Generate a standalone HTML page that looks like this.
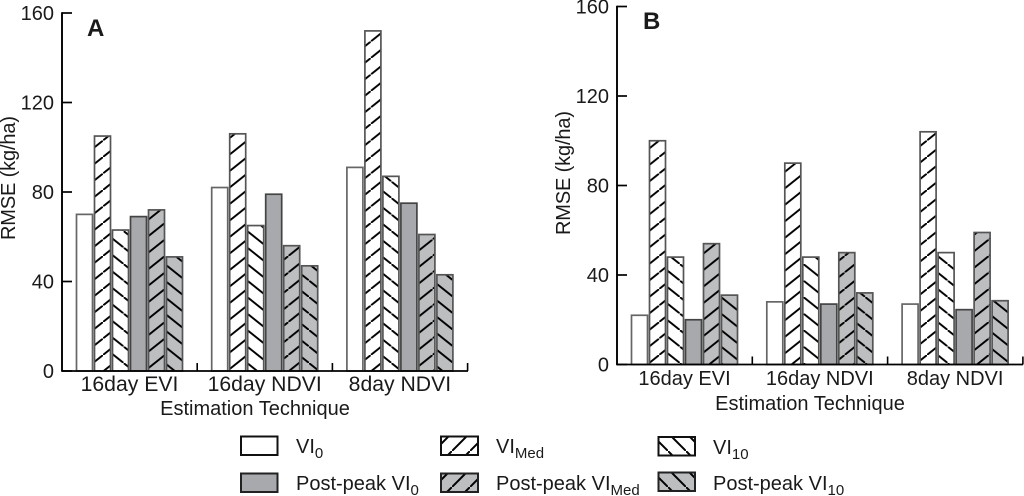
<!DOCTYPE html>
<html>
<head>
<meta charset="utf-8">
<title>RMSE by estimation technique</title>
<style>
html,body{margin:0;padding:0;background:#fff;width:1024px;height:496px;overflow:hidden}
svg{display:block;font-family:"Liberation Sans",sans-serif;fill:#1a1a1a;filter:blur(0.35px)}
text{font-size:20px}
</style>
</head>
<body>
<svg id="chart" xmlns="http://www.w3.org/2000/svg" width="1024" height="496" viewBox="0 0 1024 496">
  <defs>
    <pattern id="up" patternUnits="userSpaceOnUse" width="20.6" height="16.5" patternTransform="translate(0 -8)"><rect width="20.6" height="16.5" fill="#fff"/><path d="M-2 18.1L22.6 -1.6" stroke="#000" stroke-width="1.9"/></pattern>
    <pattern id="down" patternUnits="userSpaceOnUse" width="20.6" height="16.5"><rect width="20.6" height="16.5" fill="#fff"/><path d="M-2 -1.6L22.6 18.1" stroke="#000" stroke-width="1.9"/></pattern>
    <pattern id="upGray" patternUnits="userSpaceOnUse" width="20.6" height="16.5" patternTransform="translate(0 -8)"><rect width="20.6" height="16.5" fill="#bcbec0"/><path d="M-2 18.1L22.6 -1.6" stroke="#000" stroke-width="1.9"/></pattern>
    <pattern id="downGray" patternUnits="userSpaceOnUse" width="20.6" height="16.5"><rect width="20.6" height="16.5" fill="#bcbec0"/><path d="M-2 -1.6L22.6 18.1" stroke="#000" stroke-width="1.9"/></pattern>
    <pattern id="legUp" patternUnits="userSpaceOnUse" width="18" height="18" patternTransform="translate(2 1)"><rect width="18" height="18" fill="#fff"/><path d="M-2 20L20 -2" stroke="#000" stroke-width="2"/></pattern>
    <pattern id="legDown" patternUnits="userSpaceOnUse" width="18" height="18" patternTransform="translate(2 1)"><rect width="18" height="18" fill="#fff"/><path d="M-2 -2L20 20" stroke="#000" stroke-width="2"/></pattern>
    <pattern id="legUpGray" patternUnits="userSpaceOnUse" width="18" height="18" patternTransform="translate(2 1)"><rect width="18" height="18" fill="#bcbec0"/><path d="M-2 20L20 -2" stroke="#000" stroke-width="2"/></pattern>
    <pattern id="legDownGray" patternUnits="userSpaceOnUse" width="18" height="18" patternTransform="translate(2 1)"><rect width="18" height="18" fill="#bcbec0"/><path d="M-2 -2L20 20" stroke="#000" stroke-width="2"/></pattern>
  </defs>

  <g>
    <g>
      <rect x="241" y="436.5" width="36.5" height="18.5" fill="#fff" stroke="#111" stroke-width="2"/>
      <text x="296" y="453">VI<tspan dy="5" style="font-size:15px">0</tspan></text>
    </g>
    <g>
      <rect x="441" y="436.5" width="37" height="18.5" fill="url(#legUp)" stroke="#111" stroke-width="2"/>
      <text x="496" y="453">VI<tspan dy="5" style="font-size:15px">Med</tspan></text>
    </g>
    <g>
      <rect x="658.5" y="437" width="36.5" height="18.5" fill="url(#legDown)" stroke="#111" stroke-width="2"/>
      <text x="713" y="454">VI<tspan dy="5" style="font-size:15px">10</tspan></text>
    </g>
    <g>
      <rect x="241" y="473.5" width="36.5" height="18.5" fill="#a7a9ac" stroke="#222" stroke-width="2"/>
      <text x="296" y="490">Post-peak VI<tspan dy="5" style="font-size:15px">0</tspan></text>
    </g>
    <g>
      <rect x="441" y="473.5" width="37" height="18.5" fill="url(#legUpGray)" stroke="#222" stroke-width="2"/>
      <text x="496" y="490">Post-peak VI<tspan dy="5" style="font-size:15px">Med</tspan></text>
    </g>
    <g>
      <rect x="658.5" y="472.5" width="36.5" height="18.5" fill="url(#legDownGray)" stroke="#222" stroke-width="2"/>
      <text x="713" y="490">Post-peak VI<tspan dy="5" style="font-size:15px">10</tspan></text>
    </g>
  </g>
</svg>
<script>
const categories = ["16day EVI", "16day NDVI", "8day NDVI"];
const seriesNames = ["vi0", "vi-med", "vi10", "post-peak-vi0", "post-peak-vi-med", "post-peak-vi10"];
const yTicks = [0, 40, 80, 120, 160];
const yTickLabels = ["0", "40", "80", "120", "160"];
const panelAValues = [
  [70, 105, 63, 69, 72, 51],
  [82, 106, 65, 79, 56, 47],
  [91, 152, 87, 75, 61, 43]
];
const panelBValues = [
  [22, 100, 48, 20, 54, 31],
  [28, 90, 48, 27, 50, 32],
  [27, 104, 50, 24.5, 59, 28.5]
];

const NS = "http://www.w3.org/2000/svg";
const svg = document.getElementById("chart");
const fills = ["#fff", "url(#up)", "url(#down)", "#a7a9ac", "url(#upGray)", "url(#downGray)"];
const strokes = ["#666", "#555", "#555", "#444", "#555", "#555"];

function make(tag, attrs, parent) {
  const el = document.createElementNS(NS, tag);
  for (const k in attrs) el.setAttribute(k, attrs[k]);
  parent.appendChild(el);
  return el;
}

function drawPanel(cfg) {
  const yScale = v => cfg.y0 - v * (cfg.y0 - cfg.y160) / 160;
  const groupLeft = i => cfg.barStart + i * cfg.groupStep;

  const g = make("g", {}, svg);
  
  

  cfg.values.forEach((group, gi) => {
    group.forEach((v, si) => {
      const top = yScale(v);
      const bar = make("rect", {
        x: groupLeft(gi) + si * cfg.barStep,
        y: top,
        width: cfg.barWidth,
        height: cfg.y0 - top,
        fill: fills[si],
        stroke: strokes[si],
        "stroke-width": 1.7
      }, g);
      
      
    });
  });

  const yAxis = make("line", {x1: cfg.axisX, x2: cfg.axisX, y1: cfg.y160 - 0.8, y2: cfg.y0 + 0.8, stroke: "#000", "stroke-width": 1.9}, g);
  
  

  const xAxis = make("line", {x1: cfg.axisX, x2: cfg.axisEnd, y1: cfg.y0, y2: cfg.y0, stroke: "#000", "stroke-width": 1.7}, g);
  
  

  yTicks.forEach((t, i) => {
    const y = yScale(t);
    const tick = make("line", {x1: cfg.axisX, x2: cfg.axisX + 10, y1: y, y2: y, stroke: "#000", "stroke-width": 1.7}, g);
    
    
    const label = make("text", {x: cfg.axisX - 8, y: y + 7, "text-anchor": "end"}, g);
    label.textContent = yTickLabels[i];
    
    
  });

  categories.forEach((c, i) => {
    const tx = cfg.axisX + (i + 1) * cfg.groupStep;
    const tick = make("line", {x1: tx, x2: tx, y1: cfg.y0, y2: cfg.y0 - 8, stroke: "#000", "stroke-width": 1.6}, g);
    
    
    const cx = groupLeft(i) + (5 * cfg.barStep + cfg.barWidth) / 2;
    const label = make("text", {x: cx, y: cfg.catY, "text-anchor": "middle", style: "font-size:" + cfg.catFont + "px"}, g);
    label.textContent = c;
    
    
  });

  const xTitle = make("text", {x: cfg.titleX, y: cfg.titleY, "text-anchor": "middle"}, g);
  xTitle.textContent = "Estimation Technique";
  
  

  const yTitle = make("text", {transform: "translate(" + cfg.yTitleX + " " + cfg.yTitleY + ") rotate(-90)", "text-anchor": "middle", textLength: 124}, g);
  yTitle.textContent = "RMSE (kg/ha)";
  
  

  const letter = make("text", {x: cfg.letterX, y: cfg.letterY, "font-weight": "bold", style: "font-size:24px"}, g);
  letter.textContent = cfg.letter;
  
  
}

drawPanel({
  name: "panel-a", letter: "A", values: panelAValues,
  axisX: 62, axisEnd: 468, y0: 371, y160: 13,
  barStart: 76.5, barStep: 18, barWidth: 16, groupStep: 135.2,
  catFont: 21.2, catY: 391, titleX: 255, titleY: 415, yTitleX: 15, yTitleY: 178,
  letterX: 87, letterY: 36
});
drawPanel({
  name: "panel-b", letter: "B", values: panelBValues,
  axisX: 617, axisEnd: 1023, y0: 364.5, y160: 6.5,
  barStart: 631.5, barStep: 18, barWidth: 16, groupStep: 135.3,
  catFont: 20, catY: 385, titleX: 810, titleY: 410, yTitleX: 570, yTitleY: 173,
  letterX: 643, letterY: 29
});
</script>
</body>
</html>
